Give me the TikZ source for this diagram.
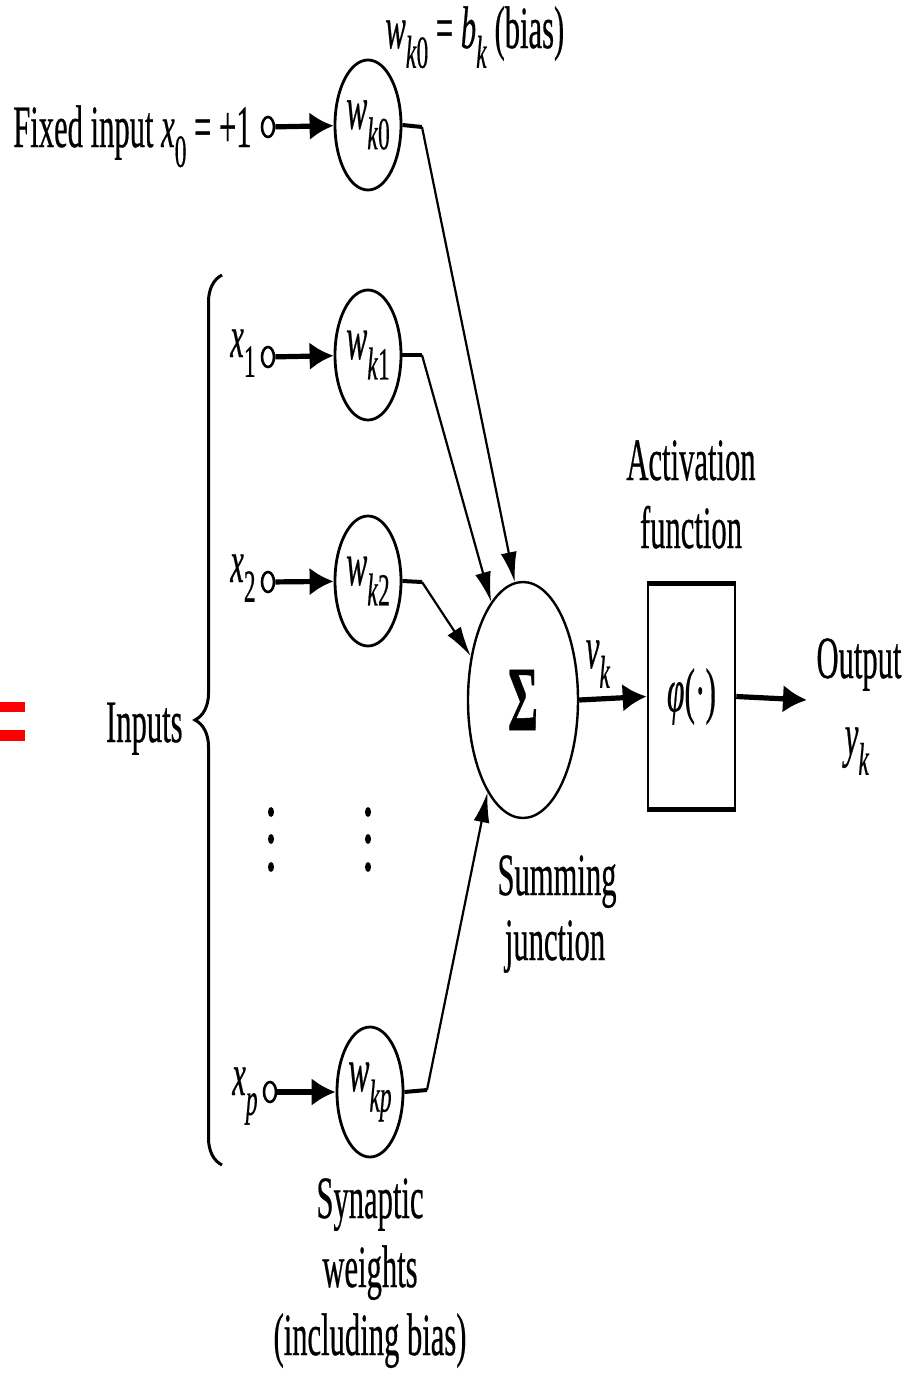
\documentclass[tikz,border=0pt]{standalone}
\usepackage{fontspec}
\setmainfont{Liberation Serif}[FakeBold=0.6, ItalicFeatures={FakeBold=0.6}]
\usetikzlibrary{arrows.meta,shapes.geometric,decorations.pathreplacing}
\newcommand\sq[1]{\scalebox{0.51}[1]{#1}}
\newcommand\lsub[1]{\raisebox{-0.33em}{\fontsize{23}{26}\selectfont #1}}
\newcommand\ms[2]{\textit{#1}\lsub{#2}}
\begin{document}
\begin{tikzpicture}[x=0.5pt,y=-0.5pt,
  txt/.style={inner sep=0pt, font=\fontsize{30}{35}\selectfont},
  wgt/.style={draw, ellipse, line width=1.4pt, minimum width=33pt, minimum height=65pt, inner sep=0pt, font=\fontsize{31}{33}\selectfont},
  term/.style={draw, ellipse, line width=1.3pt, minimum width=6pt, minimum height=10pt, inner sep=0pt},
  inarrow/.style={line width=2.6pt, -{Latex[length=12pt,width=14pt]}},
  stub/.style={line width=2pt},
  conn/.style={line width=1.1pt, -{Latex[length=15pt,width=8pt]}}
]
\fill[white] (0,0) rectangle (916,1382);
\useasboundingbox (0,0) rectangle (916,1382);

% red equals sign
\fill[red] (0,702) rectangle (25,712);
\fill[red] (0,730) rectangle (25,741);

% weights
\node[wgt] (wk0) at (368,125) {\sq{\ms{w}{\textit{k}0}}};
\node[wgt] (wk1) at (368,355) {\sq{\ms{w}{\textit{k}1}}};
\node[wgt] (wk2) at (368,581) {\sq{\ms{w}{\textit{k}2}}};
\node[wgt] (wkp) at (370,1092) {\sq{\ms{w}{\textit{kp}}}};

% terminals
\node[term] (t0) at (268,127) {};
\node[term] (t1) at (268,357) {};
\node[term] (t2) at (268,582) {};
\node[term] (tp) at (270,1092) {};

\draw[inarrow] (t0) -- (wk0);
\draw[inarrow] (t1) -- (wk1);
\draw[inarrow] (t2) -- (wk2);
\draw[inarrow] (tp) -- (wkp);

% summing junction
\node[draw, ellipse, line width=1.2pt, minimum width=55pt, minimum height=118pt, inner sep=0pt] (sigma) at (523,700)
  {\scalebox{0.5}[1]{\fontsize{46}{46}\selectfont\bfseries Σ}};

\coordinate (b0) at (422,127);
\coordinate (b1) at (422,355);
\coordinate (b2) at (422,582);
\coordinate (bp) at (427,1090);

\draw[stub] (wk0.east) -- (b0);
\draw[stub] (wk1.east) -- (b1);
\draw[stub] (wk2.east) -- (b2);
\draw[stub] (wkp.east) -- (bp);
\draw[conn] (b0) -- (sigma.94);
\draw[conn] (b1) -- (sigma.108.6);
\draw[conn] (b2) -- (sigma.140.5);
\draw[conn] (bp) -- (sigma.249.7);

% activation box
\node[draw, rectangle, line width=1.3pt, minimum width=43.5pt, minimum height=111.5pt, inner sep=0pt] (act) at (691.5,696.5)
  {\sq{\fontsize{31}{31}\selectfont\textit{φ}(·)}};
\draw[line width=2.6pt] (act.north west) -- (act.north east);
\draw[line width=2.6pt] (act.south west) -- (act.south east);

\coordinate (outend) at (807,700);
\draw[inarrow] (sigma.east) -- (act.west);
\draw[inarrow] (act.east) -- (outend);

% brace
\draw[line width=1.5pt, decorate, decoration={brace, amplitude=13.5pt}] (222,1165) -- (222,275);

% dots
\foreach \yy in {812,839,867} {
  \fill (271,\yy) ellipse [x radius=1.5pt, y radius=2.5pt];
  \fill (368,\yy) ellipse [x radius=1.5pt, y radius=2.5pt];
}

% texts
\node[txt, anchor=base east] (fixed) at (252,147) {\sq{Fixed input \ms{x}{0} = +1}};
\node[txt, anchor=base west] (biaslbl) at (385,48) {\sq{\ms{w}{\textit{k}0} = \ms{b}{\textit{k}} (bias)}};
\node[txt, anchor=base east] (x1) at (256,357) {\sq{\ms{x}{1}}};
\node[txt, anchor=base east] (x2) at (256,582) {\sq{\ms{x}{2}}};
\node[txt, anchor=base east] (xp) at (258,1095) {\sq{\ms{x}{\textit{p}}}};
\node[txt, anchor=base east] (inputs) at (183,742) {\sq{Inputs}};
\node[txt, anchor=base] (vk) at (598,668) {\sq{\ms{v}{\textit{k}}}};
\node[txt, anchor=base] (act1) at (691,480) {\sq{Activation}};
\node[txt, anchor=base] (act2) at (691,548) {\sq{function}};
\node[txt, anchor=base] (out1) at (859,678) {\sq{Output}};
\node[txt, anchor=base] (out2) at (857,755) {\sq{\ms{y}{\textit{k}}}};
\node[txt, anchor=base] (sum1) at (557,895) {\sq{Summing}};
\node[txt, anchor=base] (sum2) at (555,960) {\sq{junction}};
\node[txt, anchor=base] (syn1) at (370,1218) {\sq{Synaptic}};
\node[txt, anchor=base] (syn2) at (370,1287) {\sq{weights}};
\node[txt, anchor=base] (syn3) at (370,1355) {\sq{(including bias)}};
\end{tikzpicture}
\end{document}
